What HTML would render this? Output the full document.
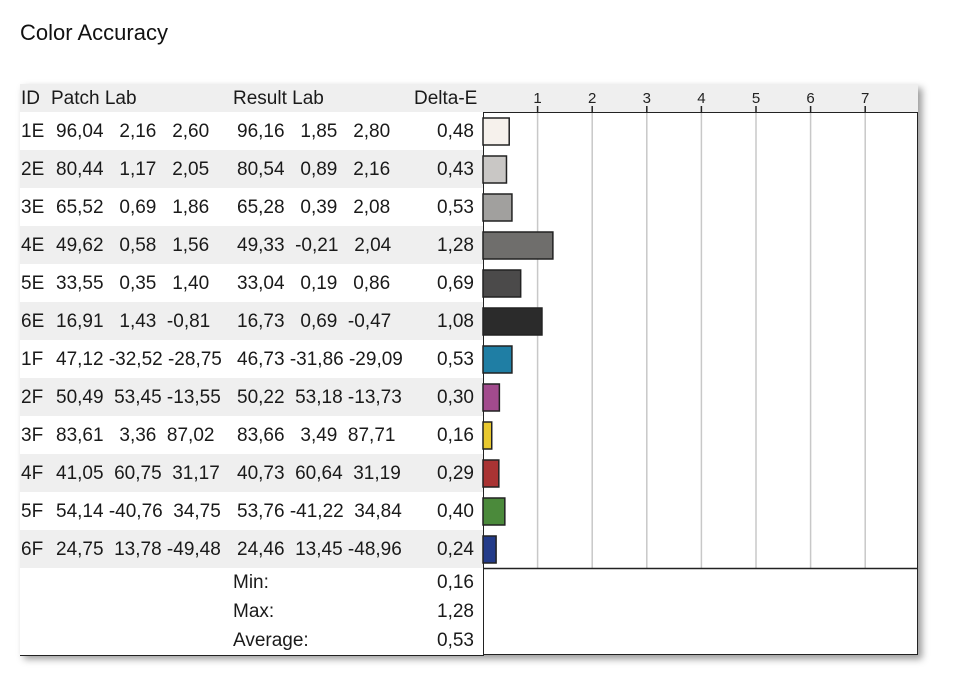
<!DOCTYPE html>
<html><head><meta charset="utf-8"><style>
body{margin:0;width:958px;height:700px;background:#fff;font-family:"Liberation Sans",Arial,sans-serif;color:#1a1a1a;position:relative;overflow:hidden}
.abs{position:absolute;box-sizing:border-box}
#title{left:20px;top:20px;font-size:22px;color:#111}
#frame{left:20px;top:84px;width:898px;height:571px;border:1.5px solid #222;box-shadow:4px 4px 7px #999;background:#fff}
#chart{z-index:5;pointer-events:none}
.cell{position:absolute;box-sizing:border-box;border-right:1.5px solid #222;border-bottom:1.5px solid #222;font-size:19px;line-height:1;white-space:pre;display:flex;align-items:center}
</style></head><body>
<div id="title" class="abs">Color Accuracy</div>
<div id="frame" class="abs"></div>
<svg id="chart" class="abs" style="left:0;top:0" width="958" height="700"></svg>
<script>
const ids=["1E","2E","3E","4E","5E","6E","1F","2F","3F","4F","5F","6F"];
const patchLab=["96,04 2,16 2,60","80,44 1,17 2,05","65,52 0,69 1,86","49,62 0,58 1,56","33,55 0,35 1,40","16,91 1,43 -0,81","47,12 -32,52 -28,75","50,49 53,45 -13,55","83,61 3,36 87,02","41,05 60,75 31,17","54,14 -40,76 34,75","24,75 13,78 -49,48"];
const resultLab=["96,16 1,85 2,80","80,54 0,89 2,16","65,28 0,39 2,08","49,33 -0,21 2,04","33,04 0,19 0,86","16,73 0,69 -0,47","46,73 -31,86 -29,09","50,22 53,18 -13,73","83,66 3,49 87,71","40,73 60,64 31,19","53,76 -41,22 34,84","24,46 13,45 -48,96"];
const deltaE=[0.48,0.43,0.53,1.28,0.69,1.08,0.53,0.30,0.16,0.29,0.40,0.24];
const patchColors=["#f6f1ec","#c9c7c5","#a1a09e","#6f6e6c","#4b4a4a","#2b2b2b","#1f7ea4","#a24b8d","#e9c92f","#a93333","#4b8a3b","#233b89"];
const summaryLabels=["Min:","Max:","Average:"];
const summaryValues=[0.16,1.28,0.53];
const ticks=[1,2,3,4,5,6,7];

const L=20,T=84,HH=28,RH=38;
const colX=[20,49,231,412,483,918];
const x0=483, unit=54.6;
const xs=v=>x0+v*unit;
const fmt=v=>v.toFixed(2).replace('.',',');
function fmtLab(s){const p=s.split(' ');const pad=t=>' '.repeat(Math.max(0,6-t.length))+t;return p[0]+' '+pad(p[1])+' '+pad(p[2]);}
const body=document.body;
function cell(x,y,w,h,txt,bg,align,name,pl){
  const d=document.createElement('div');d.className='cell';
  
  
  d.style.left=x+'px';d.style.top=y+'px';d.style.width=(w+1)+'px';d.style.height=(h+1)+'px';
  d.style.background=bg;d.style.justifyContent=align;
  if(align==='flex-end')d.style.paddingRight=(pl||9)+'px';else d.style.paddingLeft=(pl||3)+'px';
  d.textContent=txt;body.appendChild(d);return d;
}
const hbg="#efefef";
cell(colX[0],T,colX[1]-colX[0],HH,"ID",hbg,'flex-start','header-id',1);
cell(colX[1],T,colX[2]-colX[1],HH,"Patch Lab",hbg,'flex-start','header-patch-lab',2);
cell(colX[2],T,colX[3]-colX[2],HH,"Result Lab",hbg,'flex-start','header-result-lab',2);
cell(colX[3],T,colX[4]-colX[3],HH,"Delta-E",hbg,'flex-start','header-delta-e',2);
const hc=cell(colX[4],T,colX[5]-colX[4]-1,HH,"",hbg,'flex-start','axis-header',2);
hc.style.borderRight='none';
ids.forEach((id,i)=>{
  const y=T+HH+i*RH, bg=i%2?"#efefef":"#fff";
  cell(colX[0],y,colX[1]-colX[0],RH,id,bg,'flex-start','row-id-'+id,1);
  cell(colX[1],y,colX[2]-colX[1],RH,fmtLab(patchLab[i]),bg,'flex-start','patch-lab-'+id,7);
  cell(colX[2],y,colX[3]-colX[2],RH,fmtLab(resultLab[i]),bg,'flex-start','result-lab-'+id,6);
  cell(colX[3],y,colX[4]-colX[3],RH,fmt(deltaE[i]),bg,'flex-end','delta-e-'+id,9);
});
summaryLabels.forEach((lab,i)=>{
  const y=T+HH+12*RH+i*29;
  cell(colX[0],y,colX[1]-colX[0],29,"","#fff",'flex-start','summary-id-blank',1);
  cell(colX[1],y,colX[2]-colX[1],29,"","#fff",'flex-start','summary-patch-blank',1);
  cell(colX[2],y,colX[3]-colX[2],29,lab,"#fff",'flex-start','summary-label-'+i,2);
  cell(colX[3],y,colX[4]-colX[3],29,fmt(summaryValues[i]),"#fff",'flex-end','summary-value-'+i,9);
});
const svg=document.getElementById('chart');const NS="http://www.w3.org/2000/svg";
function el(t,a){const e=document.createElementNS(NS,t);for(const k in a)e.setAttribute(k,a[k]);svg.appendChild(e);return e;}
const topY=T+HH, botY=T+HH+12*RH;
ticks.forEach(t=>{
  const g=el('line',{x1:xs(t),x2:xs(t),y1:topY+1,y2:botY,stroke:"#c8c8c8","stroke-width":1.5});
  
  
  const tk=el('line',{x1:xs(t),x2:xs(t),y1:topY-6,y2:topY,stroke:"#222","stroke-width":1.5});
  
  
  const tx=el('text',{x:xs(t),y:topY-9,"text-anchor":"middle","font-size":"15","font-family":"Liberation Sans, Arial, sans-serif",fill:"#222"});
  tx.textContent=t;
  
  
});
const sep=el('line',{x1:x0,x2:918,y1:botY+0.5,y2:botY+0.5,stroke:"#222","stroke-width":1.5});


deltaE.forEach((v,i)=>{
  const y=topY+i*RH+6;
  const r=el('rect',{x:x0,y:y,width:xs(v)-x0,height:27,fill:patchColors[i],stroke:"#222","stroke-width":1.5});
  
  
});
</script>
</body></html>
